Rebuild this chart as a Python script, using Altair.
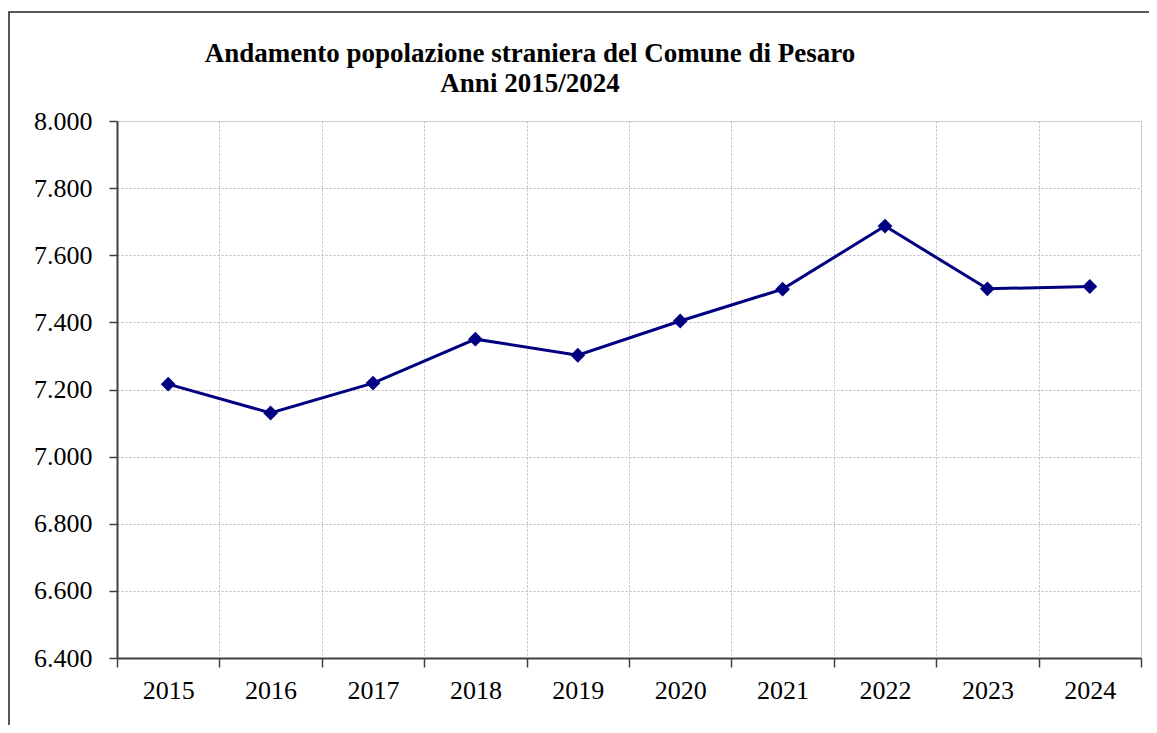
import altair as alt
import pandas as pd

years = ["2015", "2016", "2017", "2018", "2019", "2020", "2021", "2022", "2023", "2024"]
values = [7216, 7130, 7219, 7350, 7302, 7404, 7499, 7687, 7500, 7507]
y_ticks = [6400, 6600, 6800, 7000, 7200, 7400, 7600, 7800, 8000]

df = pd.DataFrame({"anno": years, "pop": values})

FONT = "Liberation Serif"

x_enc = alt.X(
    "anno:O",
    sort=years,
    scale=alt.Scale(type="band", paddingInner=0, paddingOuter=0),
    axis=alt.Axis(
        title=None, labelAngle=0, tickBand="extent", grid=True,
        gridColor="#bdbdbd", gridDash=[2, 2], gridWidth=1,
        domainColor="#404040", domainWidth=2,
        tickColor="#404040", tickWidth=1.5, tickSize=9,
        labelFont=FONT, labelFontSize=26, labelColor="black", labelPadding=10,
    ),
)
y_enc = alt.Y(
    "pop:Q",
    scale=alt.Scale(domain=[6400, 8000], nice=False, zero=False),
    axis=alt.Axis(
        title=None, values=y_ticks, format=",d", grid=True,
        gridColor="#bdbdbd", gridDash=[2, 2], gridWidth=1,
        domainColor="#404040", domainWidth=2,
        tickColor="#404040", tickWidth=1.5, tickSize=8,
        labelFont=FONT, labelFontSize=26, labelColor="black", labelPadding=17,
    ),
)

line = alt.Chart(df).mark_line(
    color="#000080", strokeWidth=3,
    point=alt.OverlayMarkDef(shape="diamond", size=220, filled=True, color="#000080", opacity=1),
).encode(x=x_enc, y=y_enc)

frame = alt.Chart(pd.DataFrame({"k": [0]})).mark_rect(
    fill=None, stroke="#222222", strokeWidth=1.5, clip=False,
).encode(
    x=alt.value(-108), x2=alt.value(1200),
    y=alt.value(-109), y2=alt.value(700),
)

chart = alt.layer(frame, line).properties(
    width=1024, height=537,
    autosize=alt.AutoSizeParams(type="none"),
    padding={"left": 109, "top": 113, "right": 8, "bottom": 67},
    title=alt.TitleParams(
        text=["Andamento popolazione straniera del Comune di Pesaro", "Anni 2015/2024"],
        font=FONT, fontSize=27, fontWeight="bold", color="black",
        anchor="middle", frame="group", baseline="alphabetic",
        dx=-99, dy=108, lineHeight=30, offset=0,
    ),
).configure_view(
    stroke="#808080", strokeWidth=2,
).configure(
    locale={"number": {"decimal": ",", "thousands": ".", "grouping": [3], "currency": ["€", ""]}},
)

chart.save("out.html", embed_options={"renderer": "svg", "actions": False})
